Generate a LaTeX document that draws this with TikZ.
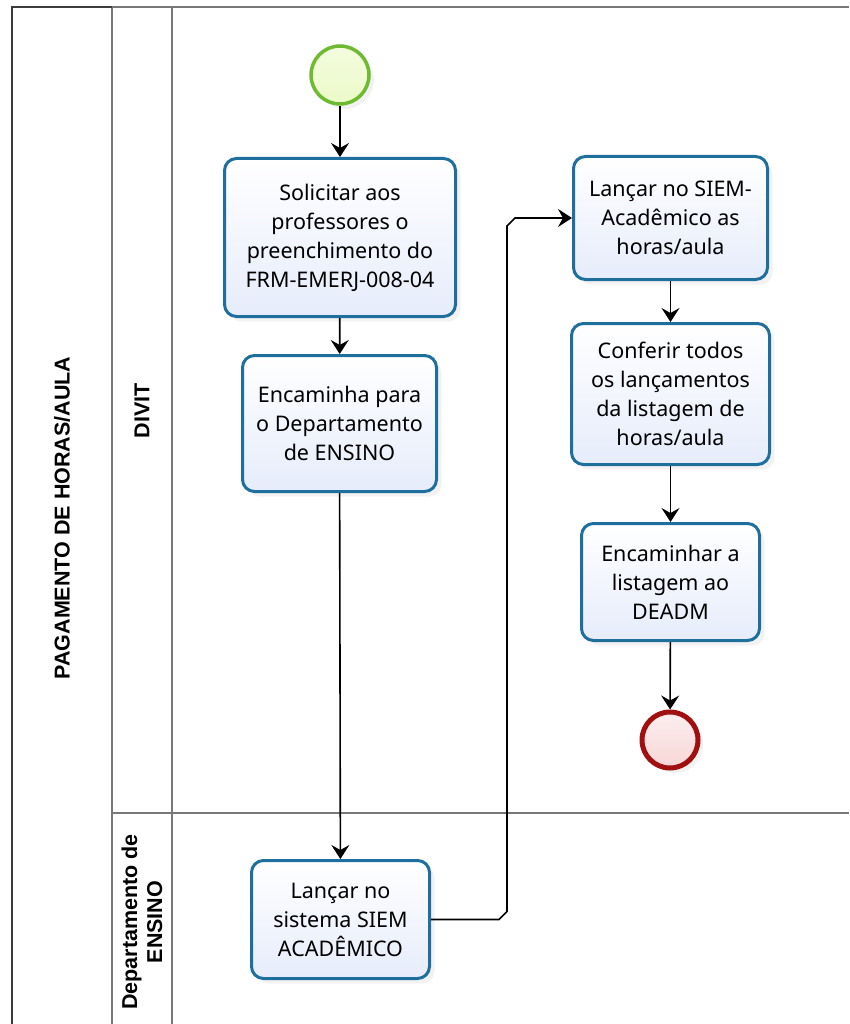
\documentclass[tikz,border=0pt]{standalone}
\usepackage{fontspec}
\setmainfont{Noto Sans}
\newfontfamily\lblfont{Liberation Sans}
\usetikzlibrary{arrows.meta,shadows}
\definecolor{taskline}{RGB}{30,110,158}
\definecolor{taskfill}{RGB}{230,236,251}
\definecolor{poolline}{RGB}{120,120,120}
\definecolor{pooldark}{RGB}{60,60,60}
\definecolor{startline}{RGB}{110,186,48}
\definecolor{startfill}{RGB}{236,250,200}
\definecolor{endline}{RGB}{160,16,16}
\definecolor{endfill}{RGB}{248,214,214}
\tikzset{
  task/.style={draw=taskline, line width=3pt, rounded corners=12pt,
    top color=white, bottom color=taskfill, align=center,
    font=\fontsize{21.5}{29}\selectfont, inner sep=0pt,
    drop shadow={opacity=0.10, shadow xshift=5pt, shadow yshift=-5pt}},
  startev/.style={circle, draw=startline, line width=3.5pt, top color=startfill!60!white, bottom color=startfill,
    minimum size=58pt, inner sep=0pt,
    drop shadow={opacity=0.10, shadow xshift=5pt, shadow yshift=-5pt}},
  endev/.style={circle, draw=endline, line width=5pt, top color=endfill!40!white, bottom color=endfill,
    minimum size=56pt, inner sep=0pt,
    drop shadow={opacity=0.10, shadow xshift=5pt, shadow yshift=-5pt}},
  flow/.style={draw=black, line width=1.6pt, -{Stealth[length=14pt,width=18pt,inset=5pt]}},
  lbl/.style={rotate=90, font=\lblfont\fontsize{21.5}{25}\selectfont\bfseries, align=center},
  pool/.style={draw=poolline, line width=2pt},
}
\begin{document}
\begin{tikzpicture}[x=1pt,y=-1pt]
\useasboundingbox (0,0) rectangle (849,1024);
% pool and lanes
\draw[pool] (112,7) -- (849,7);
\draw[pool] (112,7) -- (112,1024);
\draw[pool] (172,7) -- (172,1024);
\draw[pool] (112,813) -- (849,813);
\draw[draw=pooldark, line width=2.5pt] (12,1024) -- (12,7) -- (112,7);
\node[lbl] (poollbl) at (62,518) {PAGAMENTO DE HORAS/AULA};
\node[lbl] (lane1) at (142,411) {DIVIT};
\node[lbl] (lane2) at (142,922) {Departamento de\\ENSINO};
% events
\node[startev] (start) at (340,75) {};
\node[endev] (end) at (670,740) {};
% tasks
\node[task, minimum width=231pt, minimum height=158pt] (t1) at (340,237.5) {Solicitar aos\\professores o\\preenchimento do\\FRM-EMERJ-008-04};
\node[task, minimum width=194pt, minimum height=136pt] (t2) at (339.5,423.5) {Encaminha para\\o Departamento\\de ENSINO};
\node[task, minimum width=178pt, minimum height=118pt] (t3) at (340.5,919.5) {Lançar no\\sistema SIEM\\ACADÊMICO};
\node[task, minimum width=194pt, minimum height=123pt] (t4) at (670.5,218) {Lançar no SIEM-\\Acadêmico as\\horas/aula};
\node[task, minimum width=198pt, minimum height=141pt] (t5) at (670.5,394) {Conferir todos\\os lançamentos\\da listagem de\\horas/aula};
\node[task, minimum width=178pt, minimum height=117pt] (t6) at (670.5,582) {Encaminhar a\\listagem ao\\DEADM};
% flows
\draw[flow] (start) -- (t1);
\draw[flow] (t1) -- (t2);
\draw[flow] (t2) -- (t3);
\draw[flow] (t3.east) -- ++(68,0) -- ++(8,-8) -- (507,226) -- ++(8,-8) -- (t4.west);
\draw[flow] (t4) -- (t5);
\draw[flow] (t5) -- (t6);
\draw[flow] (t6) -- (end);
\end{tikzpicture}
\end{document}
